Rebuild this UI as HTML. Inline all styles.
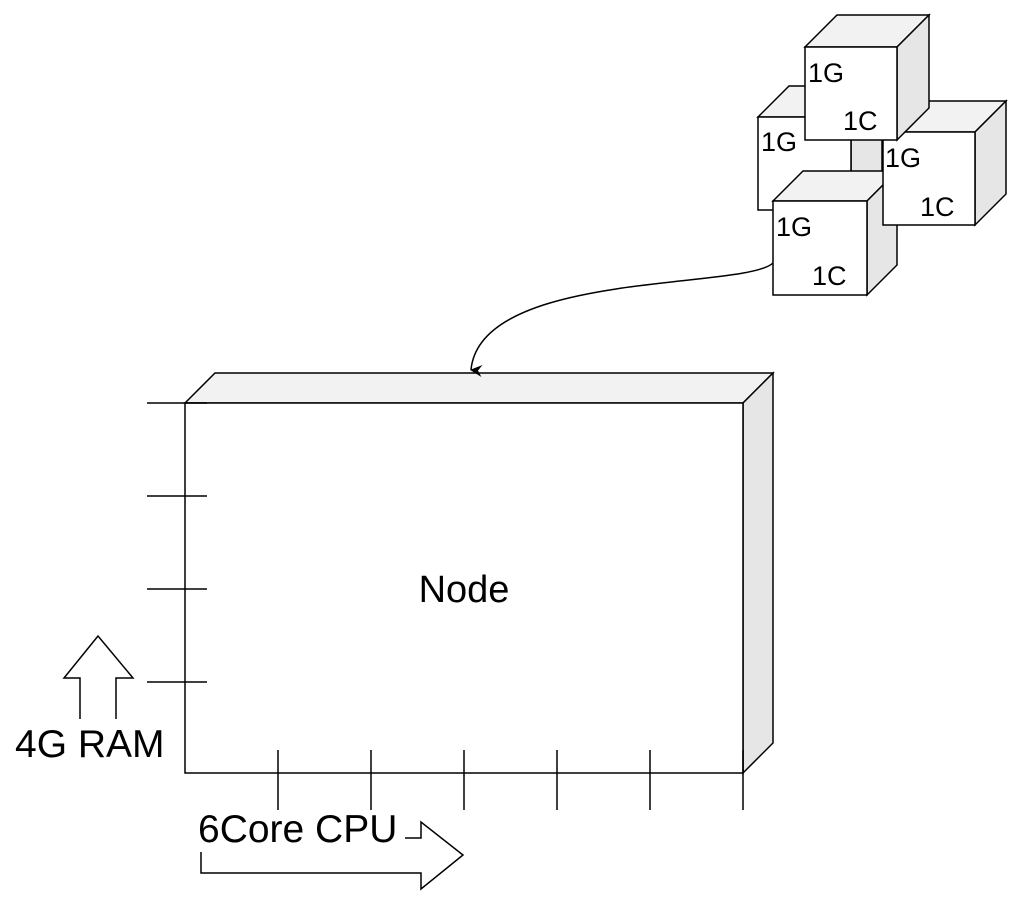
<!DOCTYPE html>
<html><head><style>body{margin:0;background:#fff}svg{display:block}text{font-family:"Liberation Sans",Arial,sans-serif;fill:#000}</style></head><body>
<svg width="1024" height="906" viewBox="0 0 1024 906" xmlns="http://www.w3.org/2000/svg">
<defs><marker id="ah" markerWidth="14" markerHeight="14" refX="6" refY="11" orient="auto" markerUnits="userSpaceOnUse"><path d="M0,0 L6,12 L12,0 L6,4 Z" fill="#000"/></marker></defs>
<g stroke="#000" stroke-width="1.5" stroke-linejoin="miter">
<g transform="translate(758,117)">
<path d="M0,0 L31,-31 L124,-31 L93,0 Z" fill="#f2f2f2"/><path d="M93,0 L124,-31 L124,62 L93,93 Z" fill="#e6e6e6"/><rect x="0" y="0" width="93" height="93" fill="#fff"/>
</g>
<g transform="translate(773,201)">
<path d="M0,0 L30,-30 L124,-30 L94,0 Z" fill="#f2f2f2"/><path d="M94,0 L124,-30 L124,64 L94,94 Z" fill="#e6e6e6"/><rect x="0" y="0" width="94" height="94" fill="#fff"/>
</g>
<g transform="translate(883,132)">
<path d="M0,0 L31,-31 L123,-31 L92,0 Z" fill="#f2f2f2"/><path d="M92,0 L123,-31 L123,62 L92,93 Z" fill="#e6e6e6"/><rect x="0" y="0" width="92" height="93" fill="#fff"/>
</g>
<g transform="translate(805,47)">
<path d="M0,0 L32,-32 L124,-32 L92,0 Z" fill="#f2f2f2"/><path d="M92,0 L124,-32 L124,61 L92,93 Z" fill="#e6e6e6"/><rect x="0" y="0" width="92" height="93" fill="#fff"/>
</g>
<path d="M185,403 L215,373 L773,373 L743,403 Z" fill="#f2f2f2"/>
<path d="M743,403 L773,373 L773,743 L743,773 Z" fill="#e6e6e6"/>
<rect x="185" y="403" width="558" height="370" fill="#fff"/>
<path d="M147,403H207M147,496H207M147,589H207M147,682H207" fill="none"/>
<path d="M278,750V810M371,750V810M464,750V810M557,750V810M650,750V810M743,750V810" fill="none"/>
<path d="M773,263 C745,290 480,270 471,370" fill="none" marker-end="url(#ah)"/>
<path d="M80,719 V678 H64 L98,636 L133,678 H116 V719" fill="none"/>
<path d="M201,852 V873 H421 V889 L463,855 L421,822 V838 H405" fill="none"/>
</g>
<g font-size="27">
<text x="761" y="151">1G</text>
<text x="808" y="82">1G</text><text x="843" y="130">1C</text>
<text x="885" y="167">1G</text><text x="920" y="216">1C</text>
<text x="776" y="236">1G</text><text x="812" y="285">1C</text>
</g>
<text x="464" y="602" font-size="38" text-anchor="middle">Node</text>
<text x="15" y="757" font-size="39">4G RAM</text>
<text x="198" y="842" font-size="39">6Core CPU</text>
</svg>
</body></html>
